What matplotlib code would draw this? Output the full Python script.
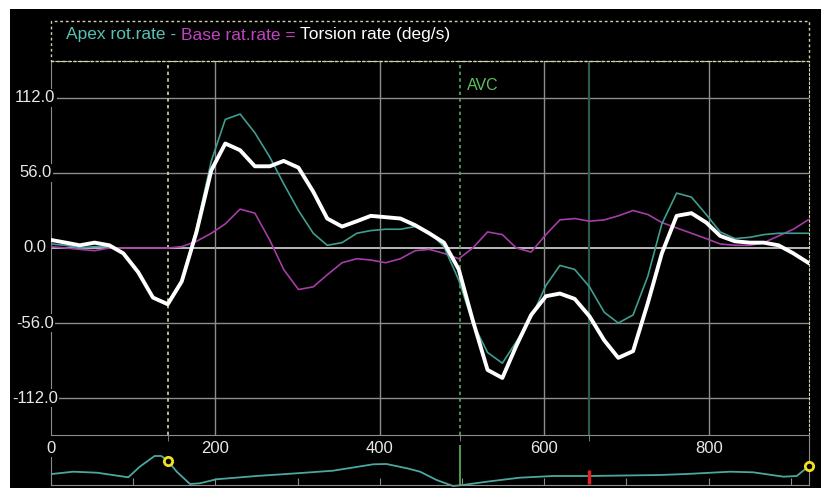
import numpy as np
from matplotlib import pyplot as plt
from matplotlib.patches import Rectangle
from matplotlib.offsetbox import TextArea, HPacker, AnchoredOffsetbox

plt.rcParams['font.family'] = ['Liberation Sans', 'DejaVu Sans']

# Sample times (ms) shared by the three rate curves.
t = [0, 18, 35, 53, 71, 88, 106, 124, 142, 159, 177, 195, 212, 230, 248, 266,
     283, 301, 319, 336, 354, 372, 389, 407, 425, 443, 460, 478, 496, 513, 531,
     549, 566, 584, 602, 619, 637, 655, 673, 690, 708, 726, 743, 761, 779, 797,
     814, 832, 850, 867, 885, 903, 921]

apex = [3, 2, 0, 1, 1, -4, -19, -37, -41, -24, 15, 65, 96, 100, 86, 68,
        48, 28, 11, 2, 4, 11, 13, 14, 14, 16, 12, 1, -24, -56, -78,
        -86, -70, -52, -28, -13, -16, -29, -48, -56, -50, -21, 18, 41, 38, 25,
        12, 7, 8, 10, 11, 11, 11]

base = [1, 0, -1, -2, 0, 0, 0, 0, 0, 1, 5, 11, 18, 29, 26, 6,
        -16, -31, -29, -20, -11, -8, -9, -11, -8, -2, -1, -4, -8, 0, 12,
        10, 0, -3, 10, 21, 22, 20, 21, 24, 28, 25, 19, 15, 11, 7,
        3, 2, 2, 4, 9, 14, 21]

torsion = [6, 4, 2, 4, 2, -4, -18, -37, -42, -25, 12, 58, 78, 73, 61, 61,
           65, 60, 42, 22, 16, 20, 24, 23, 22, 17, 11, 4, -16, -54, -91,
           -97, -73, -50, -36, -34, -38, -51, -69, -82, -77, -41, -4, 24, 26, 19,
           9, 5, 4, 4, 2, -4, -11]

# ECG strip at the bottom
ecg_t = [1, 27, 56, 94, 108, 126, 134, 141, 153, 169, 181, 201, 250, 299, 343,
         392, 408, 433, 449, 469, 489, 501, 530, 570, 611, 655, 740, 773, 826,
         854, 891, 907, 922]
ecg_v = [14, 16.3, 15.3, 10.7, 21.3, 32, 32, 28, 16.3, 4, 4.7, 8.7, 12, 14.7,
         17.3, 23.7, 24, 19.7, 16.3, 8, 2, 3, 6.3, 10.3, 12, 12, 13, 14, 16.3,
         15.7, 11.3, 12, 22]
ecg_marks = [142, 922]

yticks = [112, 56, 0, -56, -112]
xticks = [0, 200, 400, 600, 800]
event_lines = [142, 497, 655]

W, H = 821, 488
fig = plt.figure(figsize=(W / 100, H / 100), dpi=100, facecolor='white')
fig.patches.append(Rectangle((10 / W, 0), 811 / W, 479 / H, transform=fig.transFigure,
                             facecolor='black', edgecolor='none', zorder=-5))

grid_c = '#8c8c8c'
dot_c = '#d4d4aa'

ax = fig.add_axes([51 / W, 53 / H, 758 / W, 374 / H])
ax.set_facecolor('black')
ax.set_xlim(0, 922)
ax.set_ylim(-139.6, 139.6)

for y in yticks:
    ax.axhline(y, color='#c8c8c8' if y == 0 else grid_c, lw=1.3 if y == 0 else 1, zorder=1)
for x in xticks[1:]:
    ax.axvline(x, color=grid_c, lw=1, zorder=1)

ax.axvline(event_lines[0], color=dot_c, lw=1.2, ls=(0, (2, 2)), zorder=2)
ax.axvline(event_lines[1], color='#5aa65a', lw=1.2, ls=(0, (2, 2)), zorder=2)
ax.axvline(event_lines[2], color='#2a5a50', lw=1.6, zorder=2)
ax.text(event_lines[1] + 9, 121, 'AVC', color='#5cc05c', fontsize=11.5, va='center')

ax.plot(t, base, color='#a63ca6', lw=1.2, zorder=3)
ax.plot(t, apex, color='#3f9e90', lw=1.2, zorder=4)
ax.plot(t, torsion, color='white', lw=2.8, zorder=5)

ax.set_xticks(xticks)
ax.set_xticklabels([str(x) for x in xticks])
ax.set_xticks([142, 200, 400, 497, 655, 800], minor=True)
ax.tick_params(axis='x', which='major', length=0, pad=4, labelsize=12, labelcolor='#e8e8e8')
ax.tick_params(axis='x', which='minor', length=4, color=grid_c, direction='out')
ax.set_yticks([])
for y in yticks:
    ax.text(-0.021, y, f'{y:.1f}', transform=ax.get_yaxis_transform(), ha='center', va='center',
            color='#e8e8e8', fontsize=12, zorder=6,
            bbox=dict(facecolor='black', edgecolor='none', pad=1))

for side in ['left', 'bottom']:
    ax.spines[side].set_color(grid_c)
for side in ['top', 'right']:
    ax.spines[side].set_color(dot_c)
    ax.spines[side].set_linestyle((0, (2, 2)))

# title box with coloured text
fig.patches.append(Rectangle((51 / W, (H - 61) / H), 758 / W, 40 / H, transform=fig.transFigure,
                             facecolor='none', edgecolor=dot_c, lw=1, ls=(0, (2, 2)), zorder=3))
parts = [('Apex rot.rate - ', '#56c2b4'), ('Base rat.rate = ', '#c044c0'),
         ('Torsion rate (deg/s)', 'white')]
areas = [TextArea(s, textprops=dict(color=c, fontsize=12.5)) for s, c in parts]
box = AnchoredOffsetbox(loc='center left', child=HPacker(children=areas, pad=0, sep=0),
                        pad=0, borderpad=0, frameon=False,
                        bbox_to_anchor=(66 / W, (H - 35) / H), bbox_transform=fig.transFigure)
fig.add_artist(box)

# ECG strip
ax2 = fig.add_axes([51 / W, 3 / H, 758 / W, 51 / H])
ax2.patch.set_alpha(0)
ax2.set_xlim(0, 922)
ax2.set_ylim(3, 54)
ax2.plot(ecg_t, ecg_v, color='#4aa8a0', lw=1.3, clip_on=False)
ax2.plot(ecg_marks, np.interp(ecg_marks, ecg_t, ecg_v), 'o', ms=6, mfc='black',
         mec='#f0e020', mew=2, clip_on=False, zorder=5)
ax2.vlines(event_lines[1], 3, 43, color='#5cb85c', lw=1.2)
ax2.vlines(event_lines[2], 4, 18, color='#e02020', lw=2.5)
ax2.set_xticks(range(0, 1000, 100))
ax2.set_yticks([])
ax2.tick_params(axis='x', direction='in', length=5, color=grid_c, labelbottom=False)
ax2.spines['top'].set_visible(False)
for side in ['left', 'right', 'bottom']:
    ax2.spines[side].set_color(grid_c)
ax2.spines['left'].set_bounds(3, 31)

fig.savefig('out.png', dpi=100, facecolor=fig.get_facecolor())
